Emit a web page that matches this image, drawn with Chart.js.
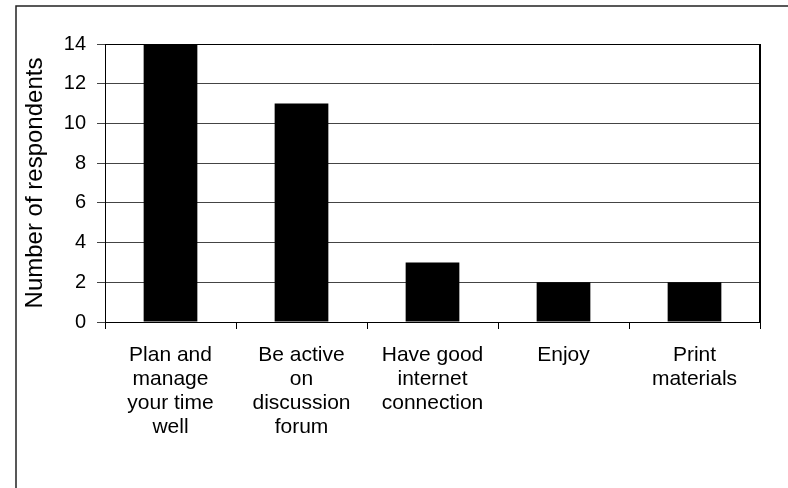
<!DOCTYPE html>
<html>
<head>
<meta charset="utf-8">
<script src="https://cdn.jsdelivr.net/npm/chart.js@4"></script>
<style>
  html, body { margin: 0; padding: 0; background: #fff; }
  #wrap { width: 788px; height: 488px; position: relative; }
</style>
</head>
<body>
<div id="wrap"><canvas id="myChart" width="788" height="488"></canvas></div>
<script>
// Advice categories (one array per wrapped label) and respondent counts
const categories = [
    ['Plan and', 'manage', 'your time', 'well'],
    ['Be active', 'on', 'discussion', 'forum'],
    ['Have good', 'internet', 'connection'],
    ['Enjoy'],
    ['Print', 'materials']
];
const respondents = [14, 11, 3, 2, 2];
const yTicks = [0, 2, 4, 6, 8, 10, 12, 14];

const family = '"Liberation Sans", Arial, sans-serif';

// Outer frame and the black border around the plot area
const framePlugin = {
    id: 'frame',
    beforeDraw(chart) {
        const c = chart.ctx;
        c.save();
        c.fillStyle = '#fff';
        c.fillRect(0, 0, chart.width, chart.height);
        c.strokeStyle = '#222';
        c.lineWidth = 1.5;
        c.beginPath();
        c.moveTo(16, chart.height);
        c.lineTo(16, 6);
        c.lineTo(chart.width, 6);
        c.stroke();
        c.restore();
    },
    afterDatasetsDraw(chart) {
        const a = chart.chartArea;
        const c = chart.ctx;
        c.save();
        c.strokeStyle = '#000';
        c.lineWidth = 1;
        c.beginPath();
        c.moveTo(a.left, a.top + 0.5);
        c.lineTo(a.right, a.top + 0.5);
        c.stroke();
        c.lineWidth = 2;
        c.beginPath();
        c.moveTo(a.right, a.top);
        c.lineTo(a.right, a.bottom);
        c.stroke();
        c.restore();
    }
};

const ctx = document.getElementById('myChart').getContext('2d');
window.myChart = new Chart(ctx, {
    type: 'bar',
    data: {
        labels: categories,
        datasets: [{
            label: 'Number of respondents',
            data: respondents,
            backgroundColor: '#000',
            borderWidth: 0,
            categoryPercentage: 1,
            barPercentage: 0.41
        }]
    },
    options: {
        responsive: false,
        animation: false,
        layout: { padding: { left: 0, top: 44, right: 28, bottom: 0 } },
        plugins: {
            legend: { display: false },
            tooltip: { enabled: false }
        },
        scales: {
            x: {
                grid: {
                    offset: true,
                    drawOnChartArea: false,
                    drawTicks: true,
                    tickLength: 7,
                    color: '#000'
                },
                border: { color: '#000', width: 1 },
                ticks: {
                    color: '#000',
                    font: { family: family, size: 21, lineHeight: 1.143 },
                    padding: 14,
                    maxRotation: 0,
                    autoSkip: false
                },
                afterFit(scale) { scale.height = 488 - 322; }
            },
            y: {
                min: 0,
                max: 14,
                afterBuildTicks(scale) {
                    scale.ticks = yTicks.map(v => ({ value: v }));
                },
                grid: {
                    color: '#444',
                    lineWidth: 1,
                    tickLength: 8,
                    drawTicks: true
                },
                border: { color: '#000', width: 1 },
                ticks: {
                    color: '#000',
                    font: { family: family, size: 20 },
                    padding: 11
                },
                title: {
                    display: true,
                    text: 'Number of respondents',
                    color: '#000',
                    font: { family: family, size: 24 },
                    padding: { top: 21, bottom: 0 }
                },
                afterFit(scale) { scale.width = 105; }
            }
        }
    },
    plugins: [framePlugin]
});
</script>
</body>
</html>
